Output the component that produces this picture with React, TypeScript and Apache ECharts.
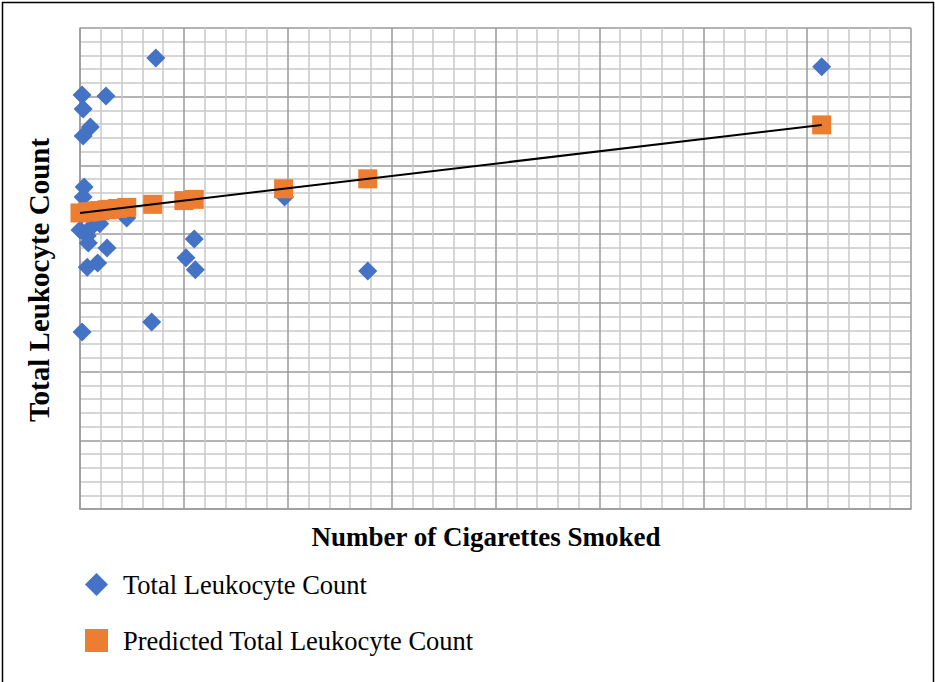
import React, { useEffect, useRef } from "react";
import * as echarts from "echarts";

// Observed data (x: cigarettes smoked, y: total leukocyte count)
const observedX = [3.65, 35.7, 0.1, 1.25, 0.15, 0.5, 0.15, 0.2, 0.15, 2.25, 9.85, 0, 0.35, 0.6, 0.4, 1.3, 0.35, 0.85, 5.5, 5.1, 5.55, 13.85, 3.45, 0.1, 0.95, 0.05];
const observedY = [13130, 12870, 12050, 12020, 11640, 11120, 10860, 9370, 9080, 8470, 9080, 8120, 7950, 8240, 7740, 7600, 7040, 7160, 7860, 7310, 6960, 6930, 5440, 5150, 8300, 8560];

// Predicted values
const predictedX = [0, 0.35, 0.5, 0.8, 0.95, 1.3, 1.45, 1.8, 2.25, 3.5, 5.0, 5.5, 9.8, 13.85, 35.7];
const predictedY = [8617, 8642, 8653, 8675, 8685, 8710, 8721, 8746, 8779, 8868, 8976, 9012, 9320, 9610, 11180];

// Trend line end points
const trendX = [0, 35.7];
const trendY = [8617, 11180];

const xMin = 0, xMax = 40, xInterval = 5;
const yMin = 0, yMax = 14000, yInterval = 2000;

const seriesNames = ["Total Leukocyte Count", "Predicted Total Leukocyte Count"];
const xTitle = "Number of Cigarettes Smoked";
const yTitle = "Total Leukocyte Count";

export default function App() {
  const ref = useRef<HTMLDivElement>(null);
  useEffect(() => {
    if (!ref.current) return;
    const chart = echarts.init(ref.current, undefined, { renderer: "svg" });
    const serif = "'Liberation Serif', 'Times New Roman', serif";
    const axisCommon = {
      axisLabel: { show: false },
      axisTick: { show: false },
      axisLine: { show: true, lineStyle: { color: "#9a9a9a", width: 1.5 } },
      splitLine: { show: true, lineStyle: { color: "#9a9a9a", width: 1.5 } },
      minorTick: { show: false, splitNumber: 5 },
      minorSplitLine: { show: true, lineStyle: { color: "#c8c8c8", width: 1.5 } },
    };
    chart.setOption({
      animation: false,
      backgroundColor: "#ffffff",
      grid: { left: 80, right: 24, top: 28, bottom: 173 },
      xAxis: { type: "value", min: xMin, max: xMax, interval: xInterval, ...axisCommon },
      yAxis: { type: "value", min: yMin, max: yMax, interval: yInterval, ...axisCommon },
      legend: {
        orient: "vertical",
        left: 80,
        top: 566,
        itemGap: 29,
        itemWidth: 23,
        itemHeight: 23,
        textStyle: { fontFamily: serif, fontSize: 26.5, color: "#000", padding: [0, 0, 0, 10] },
        data: [
          { name: seriesNames[0], icon: "diamond" },
          { name: seriesNames[1], icon: "rect" },
        ],
      },
      series: [
        {
          name: seriesNames[0],
          type: "scatter",
          symbol: "diamond",
          symbolSize: 19,
          itemStyle: { color: "#4472C4", opacity: 1 },
          data: observedX.map((x, i) => [x, observedY[i]]),
          z: 2,
        },
        {
          name: seriesNames[1],
          type: "scatter",
          symbol: "rect",
          symbolSize: 19,
          itemStyle: { color: "#ED7D31", opacity: 1 },
          data: predictedX.map((x, i) => [x, predictedY[i]]),
          z: 3,
        },
        {
          name: "trend",
          type: "line",
          symbol: "none",
          lineStyle: { color: "#000", width: 2 },
          data: trendX.map((x, i) => [x, trendY[i]]),
          z: 4,
        },
      ],
      graphic: [
        {
          type: "rect",
          shape: { x: 2.5, y: 2.5, width: 931, height: 700 },
          style: { fill: "none", stroke: "#000", lineWidth: 1.5 },
          z: 100,
        },
        {
          type: "text",
          x: 486,
          y: 537,
          style: { text: xTitle, font: `bold 27px ${serif}`, fill: "#000", align: "center", verticalAlign: "middle" },
        },
        {
          type: "text",
          x: 39,
          y: 280,
          rotation: Math.PI / 2,
          style: { text: yTitle, font: `bold 29px ${serif}`, fill: "#000", align: "center", verticalAlign: "middle" },
        },
      ],
    });
    return () => chart.dispose();
  }, []);
  return <div ref={ref} style={{ position: "fixed", left: 0, top: 0, width: 935, height: 682 }} />;
}
